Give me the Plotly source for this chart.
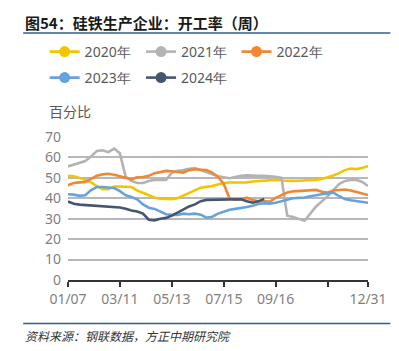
import plotly.graph_objects as go

weeks = list(range(53))
tick_idx = [0, 9, 18, 27, 36, 45, 52]
tick_text = ["01/07", "03/11", "05/13", "07/15", "09/16", "", "12/31"]

y2020 = [51, 50.8, 50, 48.8, 47.8, 46, 44.5, 44.5, 45.8, 45.8, 45.6, 45.5, 43.8, 42.6, 41.5, 40.4,
         39.8, 39.6, 39.5, 40, 41.2, 42.6, 44, 45.2, 45.6, 46, 46.8, 47.5, 47.7, 47.8, 47.6, 47.8,
         48.2, 48.4, 48.6, 48.8, 49, 48.7, 48.5, 48.5, 48.6, 48.7, 48.8, 49, 49.4, 50.2, 51.2, 52.3,
         53.8, 54.6, 54.3, 54.8, 55.8]
y2021 = [55.6, 56.5, 57.3, 58.2, 60.5, 63.2, 63.5, 62.6, 64.3, 62, 50.5, 48.5, 47.5, 47.5, 48.5, 49,
         49, 49, 52.5, 53.5, 53.8, 54.5, 54.8, 53.8, 52.5, 51.5, 50.8, 50.3, 49.8, 50.4, 51, 51.2,
         51, 51, 51, 50.8, 50.5, 50, 31.5, 30.8, 30, 29, 32.5, 36, 38.5, 41, 44, 47, 48.5, 49, 49,
         48, 46]
y2022 = [46.4, 47.5, 47.8, 48, 49.5, 51, 51.7, 52, 51.5, 50.7, 50, 49.3, 50.3, 50.4, 51, 52.3, 52.8,
         53.4, 53.2, 53, 52.6, 53.8, 54.2, 54, 53.8, 52.6, 50.5, 47, 40, 39.4, 39.5, 40.3, 39.2, 38.6,
         38.4, 38.4, 40.2, 41.5, 42.8, 43.4, 43.6, 43.8, 44, 44.1, 43.2, 42.8, 43.8, 44.2, 44.3, 43.8,
         43.2, 42.3, 41.6]
y2023 = [42, 41.8, 41.2, 41.5, 44, 45.5, 45.5, 45.3, 45, 43.5, 41.5, 40.6, 39.5, 37, 35.4, 34.8, 33.6,
         32.2, 31.9, 31.9, 32.5, 32.2, 32.5, 32, 30.5, 31, 32.5, 33.5, 34.4, 34.8, 35.2, 35.7, 36.4,
         37.2, 37.6, 37.4, 37.8, 38.6, 39.3, 40, 40.2, 40.4, 41, 41.6, 42, 42.4, 42.8, 41, 39.6, 39,
         38.5, 38.2, 37.8]
y2024 = [38.4, 37.3, 36.9, 36.7, 36.6, 36.5, 36.4, 36.2, 36, 35.5, 34.9, 34, 33.5, 32.5, 29.5, 29.2,
         30, 30.4, 31.5, 33, 34.8, 36, 37, 38.6, 39.2, 39.2, 39.2, 39.2, 39.2, 39.3, 39.5, 38.5, 37.8,
         38.5, 39.7]

names = ["2020年", "2021年", "2022年", "2023年", "2024年"]
series = [y2020, y2021, y2022, y2023, y2024]
colors = ["#F2C500", "#B3B3B3", "#EE8833", "#66A3DD", "#465670"]
# legend slot positions (pixel left of line sample, row centre)
leg_x = [48, 147, 245, 48, 147]
leg_y = [52, 52, 52, 78, 78]

L, T, W, H = 68, 137, 308, 143

def px(x):
    return (x - L) / W

def py(y):
    return 1 - (y - T) / H

fig = go.Figure()
for name, ys, c in zip(names, series, colors):
    fig.add_trace(go.Scatter(x=weeks[:len(ys)], y=ys, mode="lines", name=name,
                             line=dict(color=c, width=2.6), showlegend=False))

legend_layout = {}
for k, (name, c, lx, ly) in enumerate(zip(names, colors, leg_x, leg_y)):
    lid = "legend" if k == 0 else f"legend{k + 1}"
    fig.add_trace(go.Scatter(x=[None], y=[None], mode="lines+markers", name=name,
                             line=dict(color=c, width=2.6), marker=dict(color=c, size=11),
                             legend=lid, showlegend=True))
    legend_layout[lid] = dict(orientation="h", xanchor="left", yanchor="middle",
                              x=px(lx - 4), y=py(ly),
                              font=dict(family="Noto Sans", size=14, color="#595959"),
                              bgcolor="rgba(0,0,0,0)", itemclick=False, borderwidth=0)

fig.update_layout(
    width=399, height=351,
    margin=dict(l=L, r=399 - L - W, t=T, b=351 - T - H),
    plot_bgcolor="white", paper_bgcolor="white",
    showlegend=True,
    **legend_layout,
    xaxis=dict(range=[0, 52], tickvals=tick_idx, ticktext=tick_text, showgrid=False,
               showline=True, linecolor="#333333", linewidth=1.5, ticks="outside",
               ticklen=5, tickcolor="#333333", tickwidth=1.5, zeroline=False,
               tickfont=dict(family="Noto Sans", size=14, color="#7F7F7F")),
    yaxis=dict(range=[0, 70], dtick=10, showgrid=True, gridcolor="#B8B8BC", gridwidth=1.8,
               zeroline=False, showline=False, ticks="", ticklabelstandoff=6,
               tickfont=dict(family="Noto Sans", size=14, color="#7F7F7F")),
)

fig.add_annotation(text="<b>图54：硅铁生产企业：开工率（周）</b>", xref="paper", yref="paper",
                   x=px(22), y=py(22), xanchor="left", yanchor="middle",
                   showarrow=False, font=dict(family="Noto Sans CJK SC", size=15, color="#1a1a1a"))
fig.add_annotation(text="百分比", xref="paper", yref="paper",
                   x=px(46), y=py(111), xanchor="left", yanchor="middle",
                   showarrow=False, font=dict(family="Noto Sans CJK SC", size=14, color="#595959"))
fig.add_annotation(text="<i>资料来源：钢联数据，方正中期研究院</i>", xref="paper", yref="paper",
                   x=px(22), y=py(335), xanchor="left", yanchor="middle",
                   showarrow=False, font=dict(family="Noto Sans CJK SC", size=12, color="#333333"))
fig.add_shape(type="line", xref="paper", yref="paper", x0=px(22), x1=px(399),
              y0=py(33), y1=py(33), line=dict(color="#2F5F8E", width=1.5))
fig.add_shape(type="line", xref="paper", yref="paper", x0=px(22), x1=px(399),
              y0=py(323.5), y1=py(323.5), line=dict(color="#2F5F8E", width=1.5))

fig.write_html("out.html")
